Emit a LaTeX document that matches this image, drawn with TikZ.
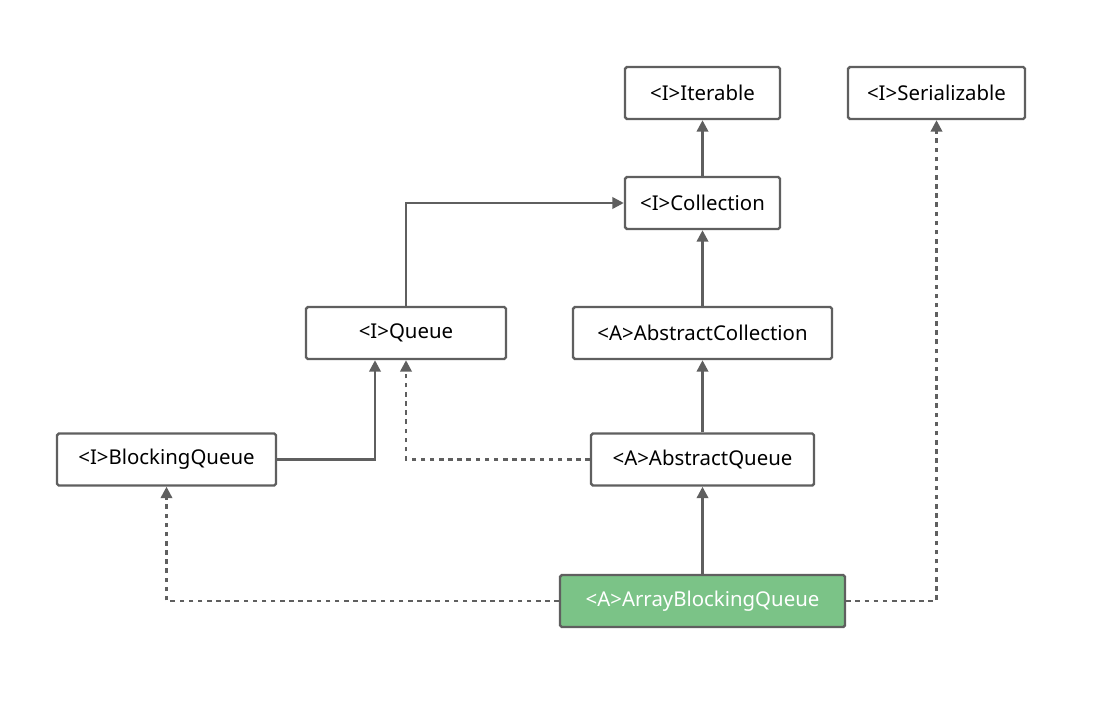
\documentclass[tikz,border=0pt]{standalone}
\usepackage{fontspec}
\setmainfont{Noto Sans}
\usetikzlibrary{arrows.meta}
\definecolor{linegray}{RGB}{95,95,95}
\definecolor{leafgreen}{RGB}{123,195,135}
\begin{document}
\begin{tikzpicture}
\useasboundingbox (0,0) rectangle (22,14.16);
\begin{scope}[every node/.style={rectangle,draw=linegray,line width=1.4pt,rounded corners=1pt,fill=white,minimum height=1.04cm,font=\fontsize{11.6}{13}\selectfont,text=black}]
\node[minimum width=3.1cm] (Iter) at (14.05,12.30) {<I>Iterable};
\node[minimum width=3.54cm] (Ser) at (18.73,12.30) {<I>Serializable};
\node[minimum width=3.1cm] (Coll) at (14.05,10.10) {<I>Collection};
\node[minimum width=4.0cm] (Q) at (8.12,7.50) {<I>Queue};
\node[minimum width=5.18cm] (AC) at (14.05,7.50) {<A>AbstractCollection};
\node[minimum width=4.38cm] (BQ) at (3.33,4.97) {<I>BlockingQueue};
\node[minimum width=4.46cm] (AQ) at (14.05,4.97) {<A>AbstractQueue};
\node[minimum width=5.7cm,fill=leafgreen,text=white] (ABQ) at (14.05,2.14) {<A>ArrayBlockingQueue};
\end{scope}

\begin{scope}[line width=1.4pt,draw=linegray,-{Triangle[length=6.5pt,width=6.5pt]}]
\draw (Coll) -- (Iter);
\draw (AC) -- (Coll);
\draw (Q.north) |- (Coll.west);
\draw (AQ) -- (AC);
\draw (BQ.east) -| ([xshift=-0.62cm]Q.south);
\draw (ABQ) -- (AQ);
\end{scope}

\begin{scope}[line width=1.4pt,draw=linegray,dash pattern=on 2.6pt off 2.6pt,-{Triangle[length=6.5pt,width=6.5pt]}]
\draw (AQ.west) -| (Q.south);
\draw (ABQ.west) -| (BQ.south);
\draw (ABQ.east) -| (Ser.south);
\end{scope}
\end{tikzpicture}
\end{document}
